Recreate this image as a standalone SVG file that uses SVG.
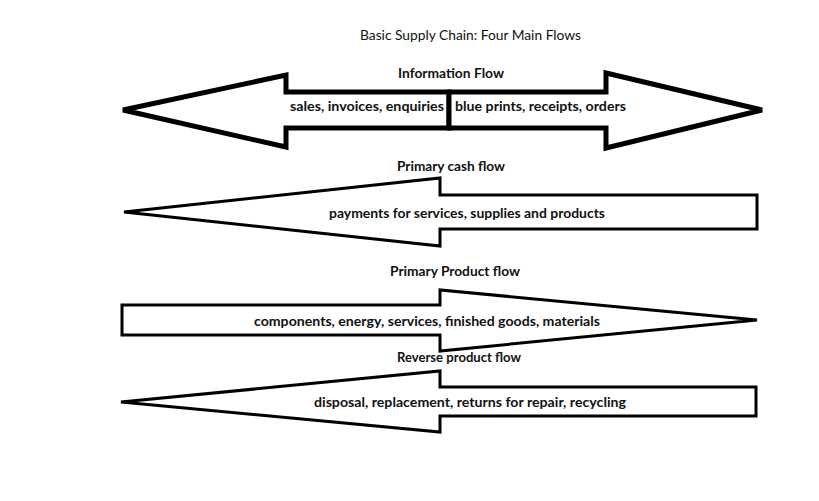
<svg xmlns="http://www.w3.org/2000/svg" width="819" height="501" viewBox="0 0 819 501">
<style>
.t{font-family:Lato,"Liberation Sans",sans-serif;font-size:13px;fill:#111;}
.b{font-weight:bold;}
.thick{fill:#fff;stroke:#000;stroke-width:5;stroke-linejoin:miter;}
.thin{fill:#fff;stroke:#000;stroke-width:3;stroke-linejoin:miter;}
</style>
<rect width="819" height="501" fill="#fff"/>
<text class="t" x="360" y="40" textLength="221" lengthAdjust="spacingAndGlyphs">Basic Supply Chain: Four Main Flows</text>
<g id="connectors">
<g id="info-flow">
<polygon class="thick" points="123,110 286,75 286,92 449,92 449,128 286,128 286,147"/>
<polygon class="thick" points="762,110 606,73 606,92 449,92 449,128 606,128 606,148"/>
</g>
<g id="cash-flow">
<polygon class="thin" points="124,212 440,178 440,195 757,195 757,229 440,229 440,246"/>
</g>
<g id="product-flow">
<polygon class="thin" points="757,320 440,290 440,305 122,305 122,335 440,335 440,351"/>
</g>
<g id="reverse-flow">
<polygon class="thin" points="121,402 440,371 440,387 756,387 756,416 440,416 440,432"/>
</g>
</g>
<g id="node-info">
<text class="t b" x="398" y="78" textLength="106" lengthAdjust="spacingAndGlyphs">Information Flow</text>
<text class="t b" x="290" y="111" textLength="154" lengthAdjust="spacingAndGlyphs">sales, invoices, enquiries</text>
<text class="t b" x="455" y="111" textLength="171" lengthAdjust="spacingAndGlyphs">blue prints, receipts, orders</text>
</g>
<g id="node-cash">
<text class="t b" x="397" y="171" textLength="108" lengthAdjust="spacingAndGlyphs">Primary cash flow</text>
<text class="t b" x="329" y="218" textLength="276" lengthAdjust="spacingAndGlyphs">payments for services, supplies and products</text>
</g>
<g id="node-product">
<text class="t b" x="390" y="276" textLength="130" lengthAdjust="spacingAndGlyphs">Primary Product flow</text>
<text class="t b" x="254" y="326" textLength="346" lengthAdjust="spacingAndGlyphs">components, energy, services, finished goods, materials</text>
</g>
<g id="node-reverse">
<text class="t b" x="397" y="362" textLength="124" lengthAdjust="spacingAndGlyphs">Reverse product flow</text>
<text class="t b" x="314" y="407" textLength="312" lengthAdjust="spacingAndGlyphs">disposal, replacement, returns for repair, recycling</text>
</g>
</svg>
